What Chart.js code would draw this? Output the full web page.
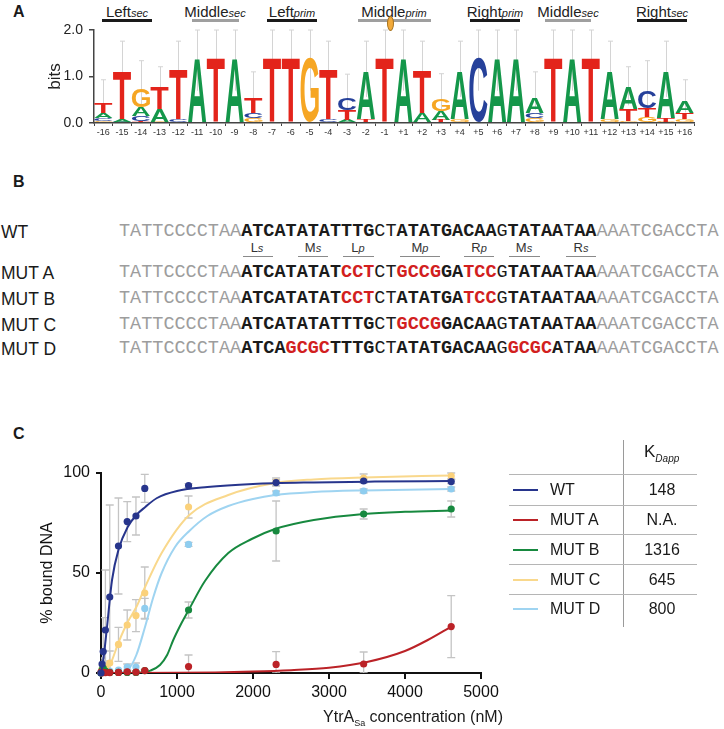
<!DOCTYPE html>
<html>
<head>
<meta charset="utf-8">
<script src="https://cdn.jsdelivr.net/npm/chart.js@4.4.1/dist/chart.umd.min.js"></script>
<style>
  html, body { margin: 0; padding: 0; background: #fff; }
  body { position: relative; width: 724px; height: 729px; overflow: hidden;
         font-family: 'Liberation Sans', Arial, Helvetica, sans-serif; color: #1a1a1a; }
  .abs { position: absolute; white-space: nowrap; }
  .plabel { font-weight: bold; font-size: 16px; line-height: 18px; }
  .hdr { font-size: 15px; line-height: 18px; transform: translateX(-50%); color: #222; }
  .hdr i { font-size: 11px; }
  .name { font-size: 17.5px; line-height: 20px; left: 1px; }
  .seq { font-family: 'Liberation Mono', 'Courier New', monospace; font-size: 18.5px; line-height: 20px; left: 119px; }
  .seq .f { color: #9d9d9d; }
  .seq .b { font-weight: bold; color: #1b1b1b; }
  .seq .n { color: #1b1b1b; }
  .seq .r { font-weight: bold; color: #d21f1f; }
  .ul { font-size: 13px; line-height: 14px; color: #333; transform: translateX(-50%); }
  .ul i { font-size: 11px; }
  .uline { height: 1px; background: #8a8a8a; top: 256px; }
  .leg { font-size: 16px; line-height: 20px; }
  .val { font-size: 16px; line-height: 20px; transform: translateX(-50%); left: 662px; }
  .sw { height: 2px; width: 25px; left: 513px; }
  .hl { height: 1px; background: #b5b5b5; left: 509px; width: 188px; }
</style>
</head>
<body>

<!-- panel letters -->
<div class="abs plabel" style="left:13px;top:3px">A</div>
<div class="abs plabel" style="left:13px;top:173px">B</div>
<div class="abs plabel" style="left:13px;top:425px">C</div>

<!-- panel A : site headers -->
<div class="abs hdr" style="left:127px;top:3px">Left<i>sec</i></div>
<div class="abs" style="left:102px;top:19px;width:50px;height:3px;background:#1a1a1a"></div>
<div class="abs hdr" style="left:215px;top:3px">Middle<i>sec</i></div>
<div class="abs" style="left:192px;top:19px;width:47px;height:3px;background:#9f9f9f"></div>
<div class="abs hdr" style="left:292px;top:3px">Left<i>prim</i></div>
<div class="abs" style="left:267px;top:19px;width:50px;height:3px;background:#1a1a1a"></div>
<div class="abs hdr" style="left:394px;top:3px">Middle<i>prim</i></div>
<div class="abs" style="left:358px;top:19px;width:73px;height:3px;background:#9f9f9f"></div>
<div class="abs" style="left:387px;top:16px;width:5px;height:13px;border-radius:50%;background:#f2aa3a;border:1px solid #a87420"></div>
<div class="abs hdr" style="left:495px;top:3px">Right<i>prim</i></div>
<div class="abs" style="left:470px;top:19px;width:50px;height:3px;background:#1a1a1a"></div>
<div class="abs hdr" style="left:568px;top:3px">Middle<i>sec</i></div>
<div class="abs" style="left:545px;top:19px;width:46px;height:3px;background:#9f9f9f"></div>
<div class="abs hdr" style="left:662px;top:3px">Right<i>sec</i></div>
<div class="abs" style="left:637px;top:19px;width:50px;height:3px;background:#1a1a1a"></div>

<canvas id="logo" class="abs" width="724" height="140" style="left:0;top:0"></canvas>

<!-- panel B -->
<div id="seqs"></div>
<div class="abs ul" style="left:257px;top:241px">L<i>s</i></div>
<div class="abs uline" style="left:243px;width:30px"></div>
<div class="abs ul" style="left:313px;top:241px">M<i>s</i></div>
<div class="abs uline" style="left:298px;width:30px"></div>
<div class="abs ul" style="left:358px;top:241px">L<i>p</i></div>
<div class="abs uline" style="left:343px;width:31px"></div>
<div class="abs ul" style="left:420px;top:241px">M<i>p</i></div>
<div class="abs uline" style="left:400px;width:40px"></div>
<div class="abs ul" style="left:479px;top:241px">R<i>p</i></div>
<div class="abs uline" style="left:464px;width:30px"></div>
<div class="abs ul" style="left:524px;top:241px">M<i>s</i></div>
<div class="abs uline" style="left:509px;width:31px"></div>
<div class="abs ul" style="left:581px;top:241px">R<i>s</i></div>
<div class="abs uline" style="left:566px;width:30px"></div>

<!-- panel C -->
<canvas id="binding" class="abs" width="510" height="289" style="left:0;top:440px"></canvas>
<div class="abs" style="right:221px;top:707px;font-size:16px;line-height:20px">YtrA<span style="font-size:9px;position:relative;top:4px">Sa</span> concentration (nM)</div>

<!-- K table -->
<div class="abs" style="left:623px;top:440px;width:1px;height:187px;background:#9a9a9a"></div>
<div class="abs hl" style="top:474px"></div>
<div class="abs hl" style="top:505px"></div>
<div class="abs hl" style="top:534px"></div>
<div class="abs hl" style="top:564px"></div>
<div class="abs hl" style="top:594px"></div>
<div class="abs" style="left:644px;top:442px;font-size:17px;line-height:20px">K<span style="font-size:10px;font-style:italic;position:relative;top:5px">Dapp</span></div>
<div id="legend"></div>

<script>
// ---------- panel A: sequence logo ----------
const logoPos = ['-16','-15','-14','-13','-12','-11','-10','-9','-8','-7','-6','-5','-4','-3','-2','-1',
                 '+1','+2','+3','+4','+5','+6','+7','+8','+9','+10','+11','+12','+13','+14','+15','+16'];
// letters bottom -> top, with their heights in bits
const logoLetters = ['GCAT','CAT','TCAG','GAT','CT','A','T','A','GCT','T','T','G','CT','ATC','TA','T',
                     'A','AT','TAG','GA','C','A','A','GCA','T','A','T','GA','GTA','GTC','GTA','GTA'];
const logoBits = [
  [0.04,0.06,0.12,0.22], [0.03,0.06,1.03], [0.05,0.1,0.18,0.38], [0.03,0.27,0.46], [0.08,1.05],
  [1.39], [1.39], [1.39], [0.1,0.12,0.34], [1.39], [1.39], [1.39], [0.08,1.05], [0.06,0.22,0.26],
  [0.08,1.04], [1.39],
  [1.39], [0.22,0.92], [0.06,0.2,0.24], [0.08,1.04], [1.39], [1.39], [1.39], [0.1,0.12,0.34],
  [1.39], [1.39], [1.39], [0.08,1.04], [0.05,0.25,0.46], [0.12,0.2,0.36], [0.03,0.08,1.01], [0.08,0.14,0.24]
];
const logoErrTop = [0.93,1.76,1.34,1.21,1.76,2,2,2,1.1,2,2,2,1.76,1.05,1.76,2,
                    2,1.76,1.06,1.76,2,2,2,1.1,2,2,2,1.76,1.21,1.34,1.76,0.93];
const letterColor = { A: '#14974a', C: '#26419a', G: '#f6a623', T: '#e3241b' };

function drawGlyph(ctx, ch, left, top, w, h, color) {
  ctx.save();
  ctx.font = 'bold 100px "Liberation Sans", Arial, sans-serif';
  ctx.textAlign = 'left';
  ctx.textBaseline = 'alphabetic';
  const m = ctx.measureText(ch);
  const gw = m.actualBoundingBoxLeft + m.actualBoundingBoxRight;
  const gh = m.actualBoundingBoxAscent + m.actualBoundingBoxDescent;
  ctx.translate(left, top);
  ctx.scale(w / gw, h / gh);
  ctx.fillStyle = color;
  ctx.fillText(ch, m.actualBoundingBoxLeft, m.actualBoundingBoxAscent);
  ctx.restore();
}

const logoPlugin = {
  id: 'logoGlyphs',
  beforeDatasetsDraw(chart) {
    const { ctx, scales: { x, y } } = chart;
    ctx.save();
    ctx.strokeStyle = '#d4d4d4';
    ctx.lineWidth = 1;
    logoErrTop.forEach((e, j) => {
      const top = logoBits[j].reduce((a, b) => a + b, 0);
      const px = Math.round(x.getPixelForValue(j)) + 0.5;
      const y0 = y.getPixelForValue(top * 0.5), y1 = y.getPixelForValue(e);
      ctx.beginPath();
      ctx.moveTo(px, y0); ctx.lineTo(px, y1);
      ctx.moveTo(px - 2.5, y1); ctx.lineTo(px + 2.5, y1);
      ctx.stroke();
    });
    ctx.restore();
  },
  afterDatasetsDraw(chart) {
    const ctx = chart.ctx;
    chart.data.datasets.forEach((ds, k) => {
      chart.getDatasetMeta(k).data.forEach((bar, j) => {
        const ch = logoLetters[j][k];
        if (!ch) return;
        const { x, y, base, width } = bar.getProps(['x', 'y', 'base', 'width'], true);
        const h = base - y;
        if (!isFinite(h) || h < 0.4) return;
        drawGlyph(ctx, ch, x - width / 2, y, width, h, letterColor[ch]);
      });
    });
  }
};

const rankCount = Math.max(...logoBits.map(b => b.length));
const logoDatasets = [];
for (let k = 0; k < rankCount; k++) {
  logoDatasets.push({
    data: logoBits.map(b => (b[k] === undefined ? null : b[k])),
    backgroundColor: 'rgba(0,0,0,0)',
    barPercentage: 1,
    categoryPercentage: 0.97
  });
}

new Chart(document.getElementById('logo'), {
  type: 'bar',
  data: { labels: logoPos, datasets: logoDatasets },
  options: {
    responsive: false, animation: false, devicePixelRatio: 1,
    layout: { padding: { top: 30, right: 30, left: 0, bottom: 0 } },
    plugins: { legend: { display: false }, tooltip: { enabled: false } },
    scales: {
      x: {
        stacked: true,
        grid: { display: true, drawOnChartArea: false, tickLength: 3, color: '#444', lineWidth: 1 },
        border: { color: '#444', width: 1.5 },
        ticks: { autoSkip: false, maxRotation: 0, padding: 1, color: '#333', font: { size: 9, family: 'Liberation Sans' } },
        afterFit: s => { s.height = 17; }
      },
      y: {
        stacked: true, min: 0, max: 2,
        grid: { display: true, drawOnChartArea: false, tickLength: 5, color: '#444', lineWidth: 1.5 },
        border: { color: '#444', width: 1.5 },
        ticks: { stepSize: 1, padding: 6, color: '#222', font: { size: 14, family: 'Liberation Sans' },
                 callback: v => v.toFixed(1) },
        title: { display: true, text: 'bits', color: '#222', font: { size: 17, family: 'Liberation Sans' },
                 padding: { top: 45 } },
        afterFit: s => { s.width = 94; }
      }
    }
  },
  plugins: [logoPlugin]
});

// ---------- panel B: sequences ----------
const seqNames = ['WT', 'MUT A', 'MUT B', 'MUT C', 'MUT D'];
const seqRowY = [232, 273, 299, 325, 349];
const flankL = ['TATTCCCCTAA', 'f'], flankR = ['AAATCGACCTA', 'f'];
const seqParts = [
  [flankL, ['ATCATATATTTG','b'], ['CT','n'], ['ATATGACAA','b'], ['G','n'], ['TATAA','b'], ['T','n'], ['AA','b'], flankR],
  [flankL, ['ATCATATAT','b'], ['CCT','r'], ['CT','n'], ['GCCG','r'], ['GA','b'], ['TCC','r'], ['G','n'], ['TATAA','b'], ['T','n'], ['AA','b'], flankR],
  [flankL, ['ATCATATAT','b'], ['CCT','r'], ['CT','n'], ['ATATGA','b'], ['TCC','r'], ['G','n'], ['TATAA','b'], ['T','n'], ['AA','b'], flankR],
  [flankL, ['ATCATATATTTG','b'], ['CT','n'], ['GCCG','r'], ['GACAA','b'], ['G','n'], ['TATAA','b'], ['T','n'], ['AA','b'], flankR],
  [flankL, ['ATCA','b'], ['GCGC','r'], ['TTTG','b'], ['CT','n'], ['ATATGACAA','b'], ['G','n'], ['GCGC','r'], ['A','b'], ['T','n'], ['AA','b'], flankR]
];
document.getElementById('seqs').innerHTML = seqNames.map((n, i) =>
  `<div class="abs name" style="top:${seqRowY[i] - 10}px">${n}</div>` +
  `<div class="abs seq" style="top:${seqRowY[i] - 10}px">` +
  seqParts[i].map(([t, c]) => `<span class="${c}">${t}</span>`).join('') + '</div>'
).join('');

// ---------- panel C: binding curves ----------
const conc = [0, 14, 29, 58, 115, 230, 345, 460, 576, 1152, 2304, 3456, 4608];
const wtBound   = [0, 4.5, 10.7, 21.5, 38, 63.5, 75.7, 78.5, 92.3, 93.7, 95.2, 96, 95.7];
const wtSd      = [0, 3, 17, 30, 46, 24, 10, 9.5, 7, 1, 1.5, 1, 1];
const mutABound = [0.5, 0, 0.3, 0.2, 0.2, 0.3, 0.6, 0.4, 1.2, 3.2, 4.3, 4.5, 23.2];
const mutASd    = [0, 0, 0, 0, 0, 0, 0, 0, 0, 5.8, 6.4, 6, 15.5];
const mutBBound = [0, 1.5, 2.5, 1, 0.3, 0.3, 0.3, 0.3, 1.2, 31.5, 71, 79.5, 82];
const mutBSd    = [0, 0, 0, 0, 0, 0, 0, 0, 0.5, 4, 15, 2.5, 4];
const mutCBound = [0, 2, 3, 3, 5, 14.3, 24, 28.7, 40, 83, 95.5, 97.5, 98.5];
const mutCSd    = [0, 0, 2, 3, 6, 8.5, 7.5, 8, 13, 5.5, 2, 2, 1.5];
const mutDBound = [0, 0.5, 1, 1, 1, 1.5, 3, 3, 32.3, 64.3, 90, 91, 92];
const mutDSd    = [0, 0, 0, 0, 0, 0, 1.5, 2, 5, 1, 1, 1, 1];

// fitted curves
const wtFitX   = [0, 15, 35, 79, 145, 233, 351, 465, 583, 737, 1000, 1400, 2000, 2800, 3600, 4608];
const wtFitY   = [0, 3, 8, 23, 46.5, 62, 73, 79, 83, 87.5, 91, 93, 94.5, 95.3, 95.7, 96];
const mutAFitX = [0, 1000, 1500, 2000, 2500, 3000, 3500, 4000, 4300, 4608];
const mutAFitY = [0, 0.1, 0.3, 0.7, 1.4, 2.6, 5.5, 11, 16.5, 23.2];
const mutBFitX = [0, 550, 650, 776, 870, 951, 1060, 1154, 1368, 1675, 1982, 2290, 2800, 3456, 4000, 4608];
const mutBFitY = [0, 0.3, 1.2, 4, 9, 16.5, 25, 31.5, 46, 60, 67, 72, 76.5, 79.5, 80.6, 81.2];
const mutCFitX = [0, 50, 118, 233, 351, 465, 580, 798, 1162, 1675, 2290, 2800, 3456, 4608];
const mutCFitY = [0, 0.8, 4, 15.5, 25.5, 33, 43, 60, 79, 89, 95, 96.8, 97.8, 98.8];
const mutDFitX = [0, 250, 351, 465, 579, 689, 798, 974, 1162, 1400, 1675, 2000, 2290, 2800, 3456, 4608];
const mutDFitY = [0, 0.3, 1.5, 9, 23, 38, 50, 63, 71, 78.5, 83.5, 87, 89, 90.5, 91.3, 92];

const seriesNames = ['WT', 'MUT A', 'MUT B', 'MUT C', 'MUT D'];
const kdApp       = ['148', 'N.A.', '1316', '645', '800'];
const lineColors  = ['#27358c', '#bb2227', '#17893f', '#f9d88c', '#9fd4f1'];
const dotColors   = ['#27358c', '#bb2227', '#17893f', '#fbd17a', '#8fcdef'];
const series = [
  [wtBound, wtSd, wtFitX, wtFitY],
  [mutABound, mutASd, mutAFitX, mutAFitY],
  [mutBBound, mutBSd, mutBFitX, mutBFitY],
  [mutCBound, mutCSd, mutCFitX, mutCFitY],
  [mutDBound, mutDSd, mutDFitX, mutDFitY]
];

const pts = (xs, ys) => xs.map((x, i) => ({ x, y: ys[i] }));
const bindingSets = [];
series.forEach(([b, sd, fx, fy], i) => {
  bindingSets.push({
    type: 'scatter', label: seriesNames[i], data: pts(conc, b), sd,
    pointRadius: 3.6, pointBackgroundColor: dotColors[i], pointBorderWidth: 0, clip: false, order: i
  });
  bindingSets.push({
    type: 'line', label: seriesNames[i] + ' fit', data: pts(fx, fy),
    borderColor: lineColors[i], borderWidth: 2, pointRadius: 0, fill: false,
    cubicInterpolationMode: 'monotone', order: i
  });
});

const errorBars = {
  id: 'errorBars',
  beforeDatasetsDraw(chart) {
    const { ctx, chartArea: a, scales: { x, y } } = chart;
    ctx.save();
    ctx.beginPath(); ctx.rect(a.left, a.top - 10, a.width + 10, a.height + 10); ctx.clip();
    ctx.strokeStyle = '#c4c4c4';
    ctx.lineWidth = 1.3;
    chart.data.datasets.forEach(ds => {
      if (!ds.sd) return;
      ds.data.forEach((p, j) => {
        const e = ds.sd[j];
        if (!e) return;
        const px = x.getPixelForValue(p.x);
        const yt = y.getPixelForValue(p.y + e), yb = y.getPixelForValue(Math.max(0, p.y - e));
        ctx.beginPath();
        ctx.moveTo(px, yt); ctx.lineTo(px, yb);
        ctx.moveTo(px - 4, yt); ctx.lineTo(px + 4, yt);
        ctx.moveTo(px - 4, yb); ctx.lineTo(px + 4, yb);
        ctx.stroke();
      });
    });
    ctx.restore();
  }
};

new Chart(document.getElementById('binding'), {
  data: { datasets: bindingSets },
  options: {
    responsive: false, animation: false, devicePixelRatio: 1,
    layout: { padding: { top: 33, right: 29, left: 0, bottom: 0 } },
    plugins: { legend: { display: false }, tooltip: { enabled: false } },
    scales: {
      x: {
        type: 'linear', min: 0, max: 5000,
        grid: { display: true, drawOnChartArea: false, tickLength: 6, color: '#111', lineWidth: 2 },
        border: { color: '#111', width: 2 },
        ticks: { stepSize: 1000, padding: 4, color: '#111', maxRotation: 0,
                 font: { size: 16, family: 'Liberation Sans' }, callback: v => String(v) },
        afterFit: s => { s.height = 56; }
      },
      y: {
        type: 'linear', min: 0, max: 100,
        grid: { display: true, drawOnChartArea: false, tickLength: 5, color: '#111', lineWidth: 2 },
        border: { color: '#111', width: 2 },
        ticks: { stepSize: 50, padding: 6, color: '#111', font: { size: 16, family: 'Liberation Sans' },
                 callback: v => String(v) },
        title: { display: true, text: '% bound DNA', color: '#111', font: { size: 16, family: 'Liberation Sans' },
                 padding: { top: 38 } },
        afterFit: s => { s.width = 101; }
      }
    }
  },
  plugins: [errorBars]
});

// K_Dapp table rows
const legendRowY = [490, 520, 550, 580, 609];
document.getElementById('legend').innerHTML = seriesNames.map((n, i) =>
  `<div class="abs sw" style="top:${legendRowY[i] - 1}px;background:${lineColors[i]}"></div>` +
  `<div class="abs leg" style="left:550px;top:${legendRowY[i] - 10}px">${n}</div>` +
  `<div class="abs val" style="top:${legendRowY[i] - 10}px">${kdApp[i]}</div>`
).join('');
</script>
</body>
</html>
